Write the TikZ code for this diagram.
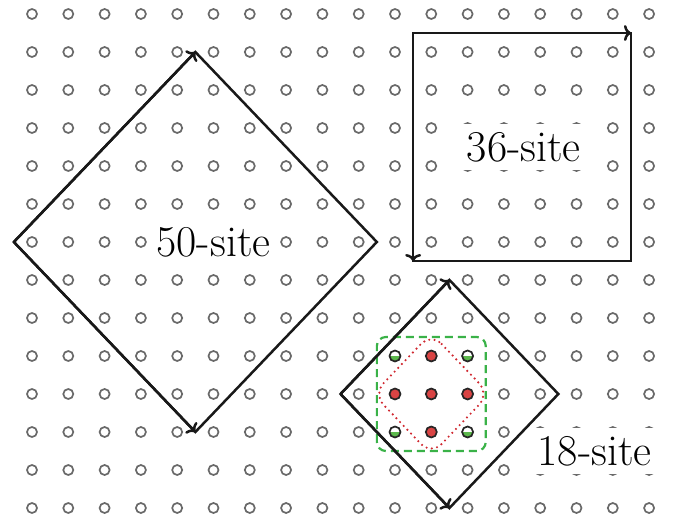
\documentclass[tikz,border=0pt]{standalone}
\usetikzlibrary{arrows.meta, calc}
\definecolor{sitegray}{RGB}{105,105,105}
\definecolor{hitred}{RGB}{217,68,68}
\definecolor{hitgreen}{RGB}{92,184,76}
\definecolor{boxgreen}{RGB}{58,178,72}
\definecolor{loopred}{RGB}{208,40,48}
\tikzset{
    site/.style={draw=sitegray, line width=1.7pt},
    hit/.style={draw=black!85, line width=1.7pt},
    cell/.style={draw=black!90, line width=2.5pt},
    vec/.style={cell, -{To[length=7pt, width=16pt]}},
    cluster/.style={draw=boxgreen, line width=2.2pt, dash pattern=on 8pt off 5pt, rounded corners=9pt},
    plaquette/.style={draw=loopred, line width=2.4pt, dash pattern=on 0pt off 5.3pt, line cap=round, rounded corners=15pt},
    sitelabel/.style={fill=white, inner sep=8pt, font=\fontsize{44}{48}\selectfont}
}

\begin{document}
\begin{tikzpicture}[x=36.3pt, y=38pt]
\useasboundingbox (-0.8815,-0.2632) rectangle (17.7135,13.3684);

% square lattice
\foreach \i in {0,...,17}{
    \foreach \j in {0,...,13}{
        \draw[site] (\i,\j) circle (5pt);
    }
}

% cluster inside the 18-site cell
\draw[cluster] (9.5,1.5) rectangle (12.5,4.5);
\draw[plaquette] (11,4.6) -- (12.6,3) -- (11,1.4) -- (9.4,3) -- cycle;

\foreach \x/\y in {11/4,10/3,11/3,12/3,11/2}{
    \filldraw[hit, fill=hitred] (\x,\y) circle (5.5pt);
}
\foreach \x/\y in {10/4,12/4,10/2,12/2}{
    \fill[white] (\x,\y) circle (5.5pt);
    \fill[hitgreen] (\x,\y) ++(-5.5pt,0) arc[start angle=180, end angle=360, radius=5.5pt] -- cycle;
    \draw[hit] (\x,\y) circle (5.5pt);
}

% labels
\node[sitelabel] (lab50) at (5,7) {50-site};
\node[sitelabel] (lab36) at (13.55,9.5) {36-site};
\node[sitelabel] (lab18) at (15.5,1.5) {18-site};

% 50-site cell
\coordinate (a50) at (-0.5,7);
\coordinate (b50) at (4.5,12);
\coordinate (c50) at (9.5,7);
\coordinate (d50) at (4.5,2);
\draw[cell] (a50) -- (b50) -- (c50) -- (d50) -- cycle;
\draw[vec] (a50) -- (b50);
\draw[vec] (a50) -- (d50);

% 36-site cell
\coordinate (a36) at (10.5,12.5);
\coordinate (b36) at (16.5,12.5);
\coordinate (c36) at (16.5,6.5);
\coordinate (d36) at (10.5,6.5);
\draw[cell] (a36) -- (b36) -- (c36) -- (d36) -- cycle;
\draw[vec] (a36) -- (b36);
\draw[vec] (a36) -- (d36);

% 18-site cell
\coordinate (a18) at (8.5,3);
\coordinate (b18) at (11.5,6);
\coordinate (c18) at (14.5,3);
\coordinate (d18) at (11.5,0);
\draw[cell] (a18) -- (b18) -- (c18) -- (d18) -- cycle;
\draw[vec] (a18) -- (b18);
\draw[vec] (a18) -- (d18);
\end{tikzpicture}
\end{document}
